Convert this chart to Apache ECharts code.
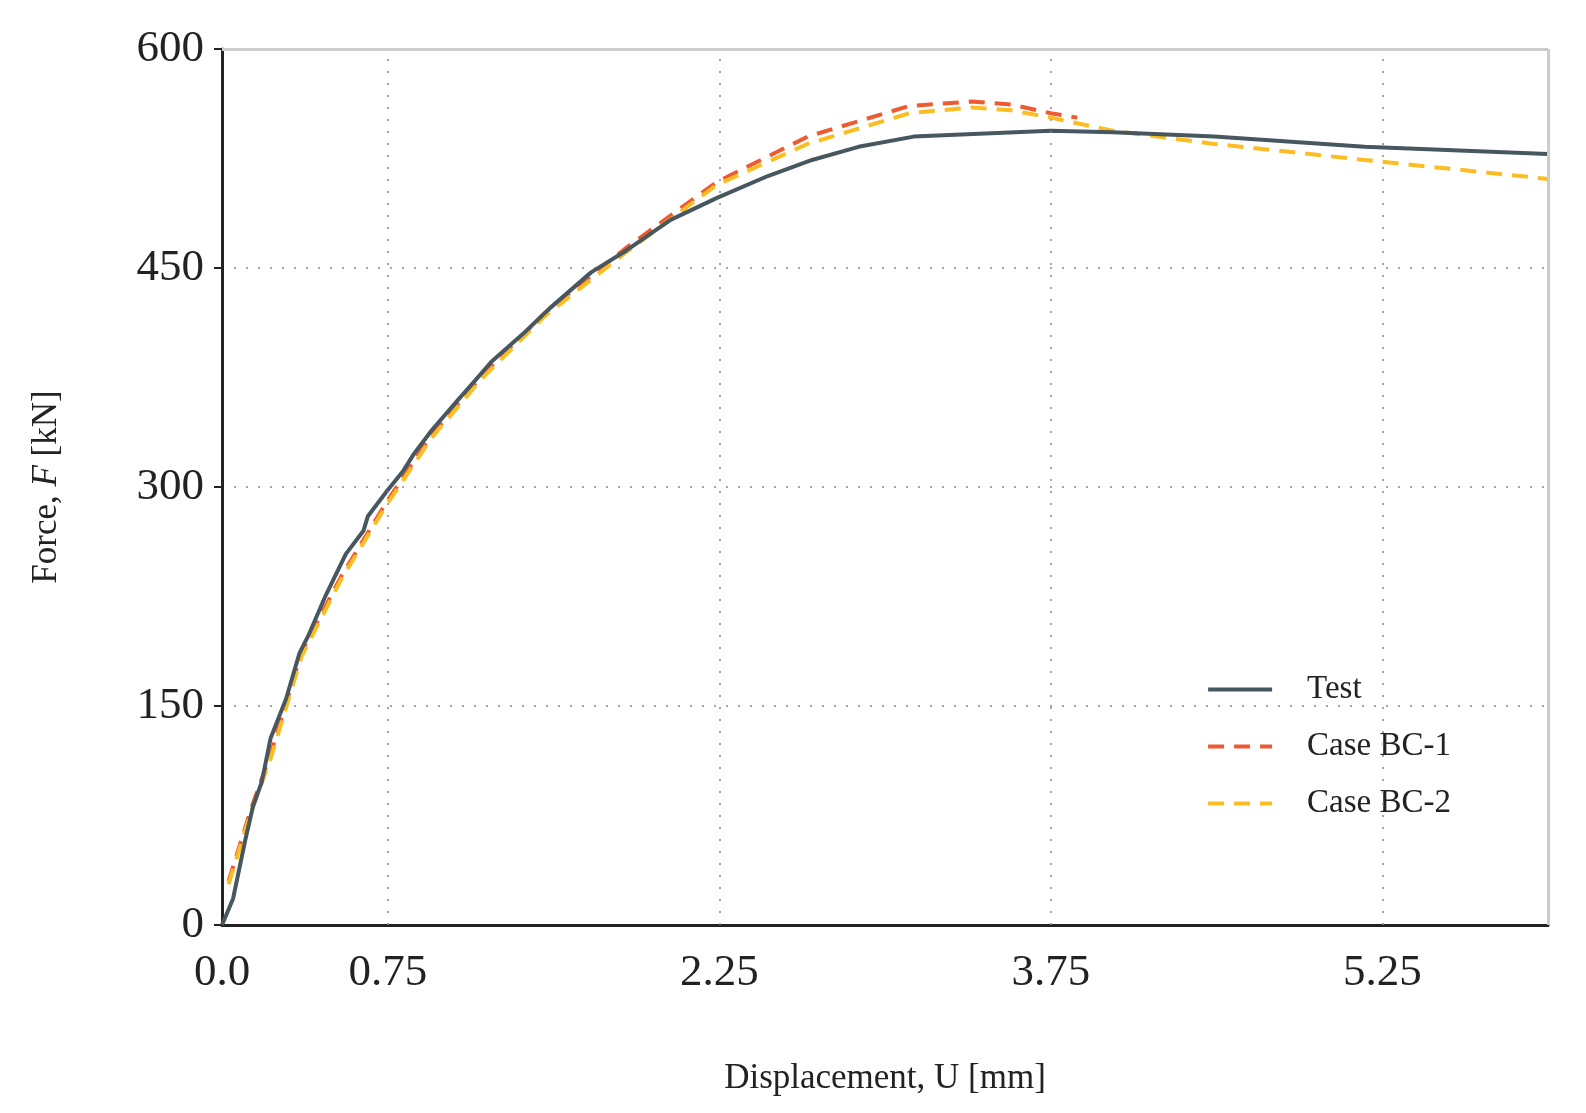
<!DOCTYPE html>
<html><head><meta charset="utf-8">
<script src="https://cdn.jsdelivr.net/npm/echarts@6/dist/echarts.min.js"></script>
<style>html,body{margin:0;background:#fff;overflow:hidden}#c{width:1586px;height:1113px}</style>
</head><body><div id="c"></div>
<script>
const xTickLabels = [0.0, 0.75, 2.25, 3.75, 5.25];
const yTicks = [0, 150, 300, 450, 600];
const testData = [[0,0],[0.05,18],[0.105,58],[0.14,81],[0.18,98],[0.22,128],[0.29,155],[0.35,186],[0.39,198],[0.47,226],[0.56,254],[0.64,270],[0.66,280],[0.75,298],[0.82,311],[0.87,323],[0.95,339],[1.07,360],[1.14,372],[1.22,386],[1.37,406],[1.48,422],[1.67,447],[1.83,462],[2.03,483],[2.24,498],[2.47,513],[2.67,524],[2.88,533],[3.13,540],[3.75,544],[4.03,543],[4.49,540],[5.17,533],[6.0,528]];
const bc1Data = [[0.03,30],[0.13,79],[0.22,117],[0.36,187],[0.54,239],[0.75,291],[0.95,336],[1.18,377],[1.46,419],[1.83,464],[2.24,509],[2.65,540],[3.11,561],[3.39,564],[3.57,562],[3.75,556],[3.87,553]];
const bc2Data = [[0.03,28],[0.13,77],[0.22,114],[0.36,184],[0.54,237],[0.75,289],[0.95,334],[1.18,375],[1.46,417],[1.83,461],[2.24,507],[2.65,535],[3.11,556],[3.39,560],[3.57,558],[3.75,553],[4.03,544],[4.49,535],[5.17,524],[6.0,511]];
const F = "'Liberation Serif','DejaVu Serif',serif";
const chart = echarts.init(document.getElementById('c'));
chart.setOption({
  animation:false,
  grid:{left:222,right:38,top:49,bottom:188},
  xAxis:{type:'value',min:0,max:6,interval:0.75,
    name:'Displacement, U [mm]',nameLocation:'middle',nameGap:136,
    nameTextStyle:{fontFamily:F,fontSize:35,color:'#222'},
    axisLine:{onZero:false,lineStyle:{color:'#222',width:3}},
    axisTick:{show:false},
    axisLabel:{fontFamily:F,fontSize:45,color:'#222',margin:26,
      formatter:v=>{const m=xTickLabels.find(t=>Math.abs(t-v)<1e-6);return m===undefined?'':(m===0?'0.0':String(m));}},
    splitLine:{show:false}},
  yAxis:{type:'value',min:0,max:600,interval:150,
    name:'{a|Force, }{b|F}{a| [kN]}',nameLocation:'middle',nameGap:158,
    nameTextStyle:{rich:{a:{fontFamily:F,fontSize:35,color:'#222'},b:{fontFamily:F,fontSize:35,fontStyle:'italic',color:'#222'}}},
    axisLine:{lineStyle:{color:'#222',width:3}},
    axisTick:{show:true,length:8,inside:false,lineStyle:{color:'#222',width:2}},
    axisLabel:{fontFamily:F,fontSize:45,color:'#222',margin:18},
    splitLine:{show:true,lineStyle:{type:[2,10],color:'#888',width:1.5}}},
  legend:{right:130,top:668,orient:'vertical',itemWidth:64,itemHeight:14,itemGap:24,
    textStyle:{fontFamily:F,fontSize:33,color:'#222',padding:[0,0,0,30]},
    data:[{name:'Test',itemStyle:{opacity:0},lineStyle:{width:4}},
          {name:'Case BC-1',itemStyle:{opacity:0},lineStyle:{width:4}},
          {name:'Case BC-2',itemStyle:{opacity:0},lineStyle:{width:4}}]},
  series:[
    {name:'Test',type:'line',data:testData,symbol:'none',lineStyle:{color:'#47575f',width:4},itemStyle:{color:'#47575f'},z:3,
     markLine:{silent:true,symbol:'none',label:{show:false},lineStyle:{type:[2,10],color:'#888',width:1.5},
       data:xTickLabels.filter(v=>v>0).map(v=>({xAxis:v})).concat([{yAxis:600,lineStyle:{type:'solid',color:'#ccc',width:3}},{xAxis:6,lineStyle:{type:'solid',color:'#ccc',width:3}}])}},
    {name:'Case BC-1',type:'line',data:bc1Data,symbol:'none',lineStyle:{color:'#ee5a32',width:4,type:[16,10]},itemStyle:{color:'#ee5a32'},z:2},
    {name:'Case BC-2',type:'line',data:bc2Data,symbol:'none',lineStyle:{color:'#fbbd22',width:4,type:[16,10]},itemStyle:{color:'#fbbd22'},z:2}
  ]
});
</script></body></html>
